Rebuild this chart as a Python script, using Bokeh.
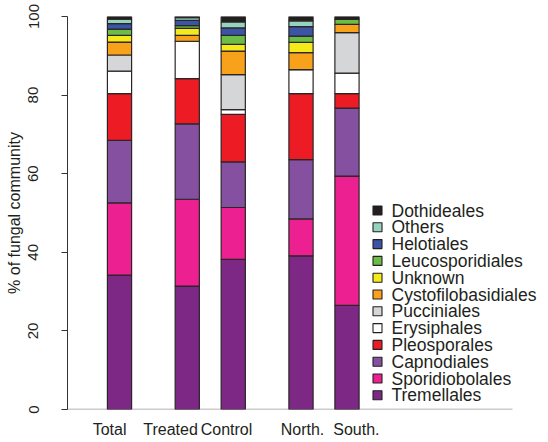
from bokeh.plotting import figure
from bokeh.models import Range1d, FixedTicker
from bokeh.core.properties import value
from bokeh.embed import file_html
from bokeh.resources import INLINE

# Sample groups and their bar positions (bar width = 1)
groups = ["Total", "Treated", "Control", "North.", "South."]
positions = [1.0, 3.8, 5.7, 8.5, 10.4]
# small horizontal nudges of the group names under the bars
label_nudge = [-0.41, -0.69, -0.28, 0.06, 0.39]

# Fungal orders, stacked bottom to top
orders = ["Tremellales", "Sporidiobolales", "Capnodiales", "Pleosporales",
          "Erysiphales", "Pucciniales", "Cystofilobasidiales", "Unknown",
          "Leucosporidiales", "Helotiales", "Others", "Dothideales"]

colors = ["#7E2886", "#EC2090", "#8550A0", "#ED1C24",
          "#FFFFFF", "#D5D6D8", "#F8A21C", "#F4EA1A",
          "#6CBD45", "#3B54A4", "#96D3BF", "#231F20"]

# Relative abundance (%) per group, one list per order
Tremellales = [34.2, 31.4, 38.2, 39.1, 26.5]
Sporidiobolales = [18.4, 22.1, 13.2, 9.4, 32.9]
Capnodiales = [15.9, 19.2, 11.6, 15.1, 17.3]
Pleosporales = [11.9, 11.5, 12.1, 16.8, 3.7]
Erysiphales = [5.7, 9.5, 1.2, 6.1, 5.2]
Pucciniales = [4.1, 0.0, 8.9, 0.0, 10.3]
Cystofilobasidiales = [3.3, 1.5, 6.0, 4.3, 2.1]
Unknown = [1.7, 1.8, 1.7, 2.6, 0.0]
Leucosporidiales = [1.6, 0.7, 2.3, 1.6, 1.3]
Helotiales = [1.4, 1.3, 1.9, 2.4, 0.0]
Others = [1.1, 0.7, 1.5, 1.5, 0.0]
Dothideales = [0.7, 0.3, 1.4, 1.1, 0.7]

values = [Tremellales, Sporidiobolales, Capnodiales, Pleosporales,
          Erysiphales, Pucciniales, Cystofilobasidiales, Unknown,
          Leucosporidiales, Helotiales, Others, Dothideales]

data = {"x": positions}
for name, vals in zip(orders, values):
    data[name] = vals

FONT = "Liberation Sans"
INK = "#231F20"

# Frame geometry (pixels) and the matching data scales
W, H = 548, 442
LEFT, TOP, BOTTOM = 67, 16, 33
X0 = -1.149
PX_PER_X = 24.2
PX_PER_Y = (H - TOP - BOTTOM) / 100.0


def px_to_x(px):
    return X0 + (px - LEFT) / PX_PER_X


def px_to_y(py):
    return (H - BOTTOM - py) / PX_PER_Y


p = figure(width=W, height=H, output_backend="svg", toolbar_location=None,
           x_range=Range1d(X0, px_to_x(W)), y_range=Range1d(0, 100),
           min_border_left=LEFT, min_border_right=0,
           min_border_top=TOP, min_border_bottom=BOTTOM)
p.outline_line_color = None
p.grid.grid_line_color = None
p.background_fill_color = "white"
p.border_fill_color = "white"

# baseline under the bars, ending short of the right edge
p.segment(x0=[X0], y0=[0], x1=[px_to_x(512)], y1=[0],
          line_color="#9a9a9a", line_width=1.5)

p.vbar_stack(orders, x="x", width=1.0, source=data,
             fill_color=colors, line_color="#2a2527", line_width=1.2)

# Legend: top of the stack listed first
row_px = 16.8
first_row_px = 210
leg_names = orders[::-1]
leg_colors = colors[::-1]
leg_y = [px_to_y(first_row_px + i * row_px) for i in range(len(leg_names))]
p.scatter(x=[px_to_x(377)] * len(leg_names), y=leg_y, marker="square", size=9,
          fill_color=leg_colors, line_color=INK, line_width=1.1)
p.text(x=[px_to_x(391)] * len(leg_names), y=leg_y, text=leg_names,
       text_baseline="middle", text_align="left", text_color=INK,
       text_font=value(FONT), text_font_size="17.5px")

# y axis in the classic style: vertical tick labels, outward ticks
ya = p.yaxis[0]
ya.ticker = FixedTicker(ticks=[0, 20, 40, 60, 80, 100])
ya.major_label_orientation = "vertical"
ya.major_tick_out = 6
ya.major_tick_in = 0
ya.minor_tick_out = 0
ya.minor_tick_in = 0
ya.axis_line_color = "#333333"
ya.major_tick_line_color = "#333333"
ya.major_label_text_font = FONT
ya.major_label_text_font_size = "15px"
ya.major_label_text_color = INK
ya.major_label_standoff = 23
ya.axis_label = "% of fungal community"
ya.axis_label_text_font = FONT
ya.axis_label_text_font_style = "normal"
ya.axis_label_text_font_size = "16px"
ya.axis_label_text_color = INK
ya.axis_label_standoff = 3

# x axis: group names only, the baseline is drawn above
xa = p.xaxis[0]
label_ticks = [pos + d for pos, d in zip(positions, label_nudge)]
xa.ticker = FixedTicker(ticks=label_ticks)
xa.major_label_overrides = {t: g for t, g in zip(label_ticks, groups)}
xa.major_tick_out = 0
xa.major_tick_in = 0
xa.minor_tick_out = 0
xa.minor_tick_in = 0
xa.axis_line_color = None
xa.major_label_text_font = FONT
xa.major_label_text_font_size = "16px"
xa.major_label_text_color = INK
xa.major_label_standoff = 11

open("out.html", "w").write(file_html(p, INLINE))
